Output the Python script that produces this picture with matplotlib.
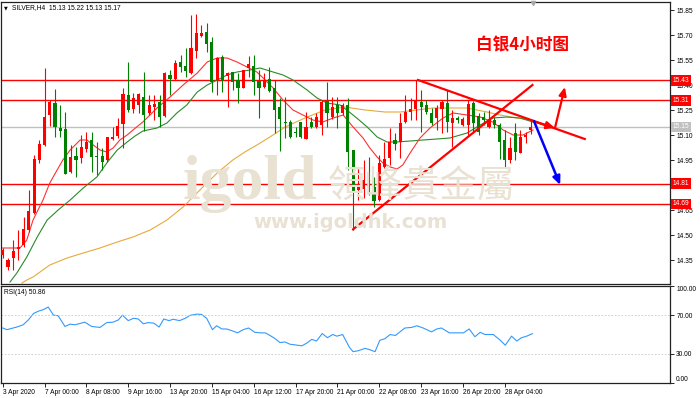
import numpy as np
import matplotlib
matplotlib.use('Agg')
import matplotlib.pyplot as plt
import matplotlib.transforms as mtransforms

plt.rcParams['font.family'] = ['Liberation Sans', 'DejaVu Sans']

# --- SILVER H4 candles ---
opens = [14.382, 14.310, 14.364, 14.418, 14.442, 14.532, 14.634, 14.952, 15.042, 15.222,
         15.294, 15.144, 15.138, 14.880, 14.976, 14.964, 15.018, 15.072, 14.976, 14.976,
         14.952, 15.078, 15.096, 15.168, 15.342, 15.258, 15.282, 15.330, 15.234, 15.270,
         15.300, 15.216, 15.462, 15.438, 15.540, 15.516, 15.474, 15.606, 15.696, 15.720,
         15.660, 15.432, 15.570, 15.456, 15.480, 15.432, 15.384, 15.504, 15.516, 15.426,
         15.390, 15.438, 15.384, 15.270, 15.180, 15.180, 15.120, 15.180, 15.078, 15.180,
         15.150, 15.162, 15.306, 15.210, 15.282, 15.234, 15.282, 15.012, 14.772, 14.778,
         14.814, 14.790, 14.712, 14.910, 14.964, 15.072, 15.060, 15.180, 15.240, 15.258,
         15.300, 15.282, 15.234, 15.204, 15.258, 15.294, 15.174, 15.204, 15.162, 15.162,
         15.294, 15.216, 15.210, 15.150, 15.192, 15.162, 15.072, 14.952, 15.114, 14.994,
         15.090, 15.130]
highs = [14.424, 14.364, 14.472, 14.532, 14.610, 14.772, 14.982, 15.072, 15.504, 15.312,
         15.378, 15.282, 15.240, 15.042, 15.030, 15.102, 15.120, 15.120, 15.060, 15.024,
         15.090, 15.150, 15.204, 15.384, 15.540, 15.354, 15.354, 15.480, 15.342, 15.342,
         15.342, 15.480, 15.492, 15.552, 15.582, 15.624, 15.822, 15.828, 15.762, 15.774,
         15.690, 15.570, 15.582, 15.480, 15.480, 15.474, 15.492, 15.576, 15.582, 15.492,
         15.474, 15.510, 15.432, 15.324, 15.330, 15.192, 15.150, 15.180, 15.240, 15.210,
         15.234, 15.312, 15.420, 15.330, 15.330, 15.294, 15.324, 15.012, 14.904, 14.952,
         14.970, 14.850, 14.982, 15.060, 15.144, 15.114, 15.234, 15.342, 15.324, 15.432,
         15.372, 15.312, 15.264, 15.282, 15.312, 15.372, 15.252, 15.216, 15.210, 15.312,
         15.306, 15.234, 15.240, 15.252, 15.210, 15.174, 15.132, 15.090, 15.174, 15.132,
         15.120, 15.192]
lows = [14.364, 14.292, 14.292, 14.352, 14.430, 14.520, 14.628, 14.934, 15.036, 15.156,
        15.090, 15.090, 14.868, 14.874, 14.850, 14.934, 15.000, 14.880, 14.862, 14.892,
        14.940, 15.072, 15.084, 15.024, 15.240, 15.234, 15.234, 15.126, 15.222, 15.192,
        15.150, 15.210, 15.342, 15.432, 15.480, 15.450, 15.468, 15.564, 15.690, 15.600,
        15.360, 15.342, 15.360, 15.270, 15.372, 15.294, 15.384, 15.450, 15.342, 15.204,
        15.384, 15.360, 15.114, 15.006, 15.084, 15.084, 15.090, 15.084, 15.078, 15.144,
        15.144, 15.102, 15.150, 15.198, 15.144, 15.222, 14.892, 14.532, 14.712, 14.724,
        14.742, 14.670, 14.706, 14.904, 14.922, 15.012, 14.964, 15.174, 15.192, 15.192,
        15.120, 15.228, 15.162, 15.132, 15.114, 15.120, 15.030, 15.174, 15.156, 15.102,
        15.114, 15.102, 15.162, 15.144, 15.144, 14.958, 14.904, 14.934, 14.952, 14.994,
        15.054, 15.108]
closes = [14.412, 14.352, 14.406, 14.430, 14.538, 14.646, 14.958, 15.048, 15.210, 15.300,
          15.150, 15.126, 14.868, 14.970, 14.952, 15.030, 15.060, 14.970, 14.970, 14.940,
          15.090, 15.090, 15.156, 15.348, 15.252, 15.324, 15.348, 15.222, 15.282, 15.288,
          15.210, 15.474, 15.438, 15.534, 15.510, 15.486, 15.624, 15.714, 15.714, 15.648,
          15.420, 15.564, 15.432, 15.474, 15.420, 15.384, 15.492, 15.528, 15.420, 15.384,
          15.432, 15.366, 15.252, 15.198, 15.174, 15.090, 15.114, 15.090, 15.150, 15.150,
          15.210, 15.300, 15.234, 15.270, 15.234, 15.282, 14.999, 14.760, 14.790, 14.832,
          14.796, 14.706, 14.934, 14.958, 15.060, 15.048, 15.174, 15.240, 15.258, 15.312,
          15.270, 15.240, 15.174, 15.264, 15.300, 15.180, 15.204, 15.192, 15.198, 15.288,
          15.174, 15.120, 15.192, 15.192, 15.162, 15.060, 14.952, 15.024, 15.000, 15.090,
          15.102, 15.150]

# --- moving averages (bar index, price) ---
ma_fast_x = [0, 3.3, 4.6, 5.8, 7.7, 9.0, 10.4, 11.5, 12.9, 14.8, 16.1, 17.3, 18.6, 19.9, 21.1,
             22.4, 23.8, 24.9, 26.8, 29.5, 32.0, 34.5, 37.2, 39.1, 41.0, 42.9, 44.8, 46.7, 48.6,
             49.8, 51.7, 53.6, 55.5, 57.4, 59.3, 61.2, 63.2, 65.1, 67.0, 68.9, 70.2, 71.6, 72.7,
             74.1, 75.4, 76.5, 77.9, 79.8, 81.7, 84.2, 86.1, 88.8, 91.3, 93.7, 95.7, 97.6, 99.5,
             101.4]
ma_fast_y = [14.424, 14.424, 14.472, 14.592, 14.712, 14.814, 14.892, 14.952, 15.012, 15.072,
             15.072, 15.042, 15.012, 15.000, 15.024, 15.072, 15.102, 15.132, 15.180, 15.264,
             15.330, 15.402, 15.474, 15.540, 15.564, 15.564, 15.540, 15.510, 15.480, 15.444,
             15.384, 15.312, 15.252, 15.222, 15.192, 15.180, 15.204, 15.222, 15.150, 15.084,
             15.024, 14.970, 14.934, 14.910, 14.898, 14.922, 14.994, 15.084, 15.144, 15.204,
             15.234, 15.222, 15.210, 15.180, 15.132, 15.102, 15.102, 15.132]

ma_mid_x = [1.4, 2.7, 4.6, 6.6, 8.5, 10.6, 12.9, 15.4, 18.0, 19.9, 21.9, 23.8, 25.3, 26.8, 29.5,
            31.4, 33.3, 35.2, 37.2, 39.1, 41.0, 42.9, 44.8, 47.3, 49.2, 51.7, 53.6, 55.5, 58.2,
            60.1, 62.0, 64.5, 65.8, 67.7, 69.7, 71.6, 73.5, 75.4, 77.9, 80.4, 83.0, 85.5, 88.8,
            91.3, 93.7, 96.4, 98.9, 101.4]
ma_mid_y = [14.220, 14.274, 14.370, 14.490, 14.592, 14.652, 14.712, 14.784, 14.850, 14.934,
            15.012, 15.060, 15.096, 15.126, 15.144, 15.174, 15.234, 15.282, 15.360, 15.402,
            15.432, 15.462, 15.480, 15.492, 15.504, 15.480, 15.462, 15.432, 15.372, 15.324,
            15.294, 15.282, 15.252, 15.204, 15.150, 15.090, 15.060, 15.060, 15.066, 15.072,
            15.078, 15.084, 15.114, 15.162, 15.204, 15.210, 15.204, 15.180]

ma_slow_x = [3.7, 4.6, 5.8, 9.0, 12.3, 15.4, 18.6, 21.9, 24.9, 28.2, 31.4, 34.5, 37.7, 41.0,
             44.0, 46.3, 48.6, 51.1, 54.0, 57.8, 61.6, 65.4, 69.3, 73.1, 76.0, 82.3, 88.8, 92.6,
             95.1, 98.3, 101.4]
ma_slow_y = [14.214, 14.232, 14.250, 14.322, 14.364, 14.394, 14.424, 14.460, 14.490, 14.532,
             14.592, 14.670, 14.772, 14.874, 14.952, 15.000, 15.042, 15.090, 15.150, 15.204,
             15.252, 15.270, 15.252, 15.240, 15.240, 15.264, 15.264, 15.240, 15.222, 15.204,
             15.192]

# --- RSI(14) (bar index, value) ---
rsi_x = [0, 0.8, 2.7, 3.9, 4.9, 5.9, 6.8, 7.8, 8.7, 9.7, 10.6, 11.9, 12.9, 13.8, 15.7, 17.0,
         18.6, 19.9, 21.1, 22.1, 22.9, 24.0, 25.0, 25.9, 26.9, 27.8, 28.9, 29.9, 30.8, 31.8,
         32.6, 33.8, 34.9, 35.8, 37.1, 38.0, 39.0, 40.1, 40.9, 41.9, 42.8, 43.8, 44.9, 46.0,
         47.0, 48.2, 49.2, 50.2, 51.1, 52.1, 53.0, 54.0, 54.9, 55.9, 57.2, 58.1, 59.1, 60.0,
         61.1, 62.1, 63.1, 63.9, 65.0, 66.3, 67.0, 68.0, 69.3, 70.2, 71.2, 72.1, 73.1, 74.1,
         75.1, 76.1, 76.9, 78.2, 79.2, 80.4, 82.0, 83.0, 83.9, 85.4, 86.8, 88.1, 89.2, 90.3,
         91.3, 92.2, 93.8, 95.1, 96.1, 97.3, 98.3, 99.2, 100.2, 101.3]
rsi_y = [56.7, 55.0, 57.7, 60.0, 65.0, 71.7, 74.0, 75.7, 78.3, 70.0, 69.3, 58.3, 60.7, 60.0,
         62.7, 58.3, 57.3, 62.3, 62.7, 65.0, 70.0, 64.3, 66.7, 66.0, 61.0, 62.3, 61.7, 57.7,
         66.0, 64.3, 65.7, 64.3, 66.7, 69.7, 71.0, 70.7, 66.7, 55.0, 59.0, 55.7, 55.7, 54.0,
         51.7, 55.0, 56.7, 52.3, 51.7, 51.7, 49.0, 45.7, 41.7, 42.3, 40.0, 39.3, 38.3, 41.0,
         45.0, 43.3, 51.0, 46.7, 50.0, 48.3, 50.0, 36.7, 32.3, 33.3, 35.7, 34.3, 32.3, 44.0,
         45.7, 50.0, 49.0, 53.3, 56.7, 57.3, 59.0, 56.7, 52.7, 55.7, 56.7, 51.7, 51.7, 51.7,
         55.7, 47.7, 52.3, 50.0, 50.0, 44.3, 39.0, 48.3, 43.3, 46.7, 48.3, 50.86]

# support / resistance levels and current price
levels = [15.43, 15.31, 14.81, 14.69]
last_price = 15.15

# hand-drawn analysis lines (bar index, price)
rise_line_x = [67.0, 101.3]
rise_line_y = [14.536, 15.402]
fall_line_x = [79.4, 111.3]
fall_line_y = [15.432, 15.078]
up_arrow_x = [101.4, 105.6, 107.5]
up_arrow_y = [15.185, 15.144, 15.39]
down_arrow_x = [101.6, 106.6]
down_arrow_y = [15.185, 14.802]

price_ticks = [14.35, 14.50, 14.65, 14.80, 14.95, 15.10, 15.25, 15.40, 15.55, 15.70, 15.85]
# 14.80 sits under the 14.81 level box, so its label is hidden there
hidden_ticks = [14.80]
date_pos = [0, 8, 16, 24, 32, 40, 48, 56, 64, 72, 80, 88, 96]
date_labels = ['3 Apr 2020', '7 Apr 00:00', '8 Apr 08:00', '9 Apr 16:00', '13 Apr 20:00',
               '15 Apr 04:00', '16 Apr 12:00', '17 Apr 20:00', '21 Apr 00:00', '22 Apr 08:00',
               '23 Apr 16:00', '26 Apr 20:00', '28 Apr 04:00']

W, H = 700, 398


def px_box(x0, y0, x1, y1):
    # pixel rectangle (top-left origin) -> figure fraction
    return [x0 / W, 1 - y1 / H, (x1 - x0) / W, (y1 - y0) / H]


fig = plt.figure(figsize=(7, 3.98), dpi=100)
ax = fig.add_axes(px_box(1, 2, 670, 284))
ax2 = fig.add_axes(px_box(1, 286, 670, 383))

# --- watermark ---
wm = '#e9e2d3'
fig.text(183 / W, 1 - 184 / H, 'igold', color=wm, fontsize=46, weight='bold',
         family='Liberation Serif', ha='left', va='center', zorder=0)
fig.text(422 / W, 1 - 186 / H, '領峰貴金屬', color=wm, fontsize=27,
         family='Noto Sans CJK TC', ha='center', va='center', zorder=0)
fig.text(350 / W, 1 - 222 / H, 'www.igoldhk.com', color=wm, fontsize=14, weight='bold',
         family='DejaVu Sans', ha='center', va='center', zorder=0)
ax.patch.set_alpha(0)
fig.patch.set_facecolor('white')

# --- candles ---
o = np.array(opens)
c = np.array(closes)
idx = np.arange(len(o))
cols = np.where(c >= o, '#ff0000', '#008000')
ax.vlines(idx, lows, highs, colors=cols, lw=0.8, zorder=3)
ax.bar(idx, np.maximum(np.abs(c - o), 0.006), bottom=np.minimum(o, c), width=0.6,
       color=cols, lw=0, zorder=4)

# moving averages
ax.plot(ma_slow_x, ma_slow_y, color='#e8a93a', lw=0.8, zorder=2)
ax.plot(ma_mid_x, ma_mid_y, color='#2a8a2a', lw=0.8, zorder=2)
ax.plot(ma_fast_x, ma_fast_y, color='#ff3030', lw=0.8, zorder=2)

# levels
for lv in levels:
    ax.axhline(lv, color='#ff0000', lw=1.0, zorder=1)
ax.axhline(last_price, color='#c0c0c0', lw=1.0, zorder=1)

# trend lines and arrows
ax.plot(rise_line_x, rise_line_y, color='#ff0000', lw=1.6, zorder=5)
ax.plot(fall_line_x, fall_line_y, color='#ff0000', lw=1.6, zorder=5)
for i in range(len(up_arrow_x) - 1):
    ax.annotate('', xy=(up_arrow_x[i + 1], up_arrow_y[i + 1]),
                xytext=(up_arrow_x[i], up_arrow_y[i]),
                arrowprops=dict(arrowstyle='-|>,head_length=0.5,head_width=0.22',
                                color='#ff0000', lw=1.6, shrinkA=0, shrinkB=0), zorder=6)
ax.annotate('', xy=(down_arrow_x[1], down_arrow_y[1]), xytext=(down_arrow_x[0], down_arrow_y[0]),
            arrowprops=dict(arrowstyle='-|>,head_length=0.5,head_width=0.22',
                            color='#0000ff', lw=1.8, shrinkA=0, shrinkB=0), zorder=6)

ax.set_xlim(-0.33, 127.6)
ax.set_ylim(14.208, 15.90)
ax.set_xticks([])
ax.yaxis.tick_right()
ax.set_yticks(price_ticks)
ax.set_yticklabels(['' if t in hidden_ticks else '%.2f' % t for t in price_ticks])
ax.tick_params(axis='y', labelsize=4.8, length=3, width=0.6, pad=1.5, colors='black')
for s in ax.spines.values():
    s.set_linewidth(0.9)
    s.set_color('#222222')

# shift marker at the top
ax.plot([101.4], [15.895], marker='v', color='#a8a8a8', ms=3, clip_on=False, zorder=7)

# price boxes on the axis
trans = mtransforms.blended_transform_factory(ax.transAxes, ax.transData)
for lv in levels:
    ax.text(1.004, lv, '%.2f' % lv, transform=trans, color='white', fontsize=4.8,
            ha='left', va='center', clip_on=False, zorder=8,
            bbox=dict(boxstyle='square,pad=0.25', fc='#ff0000', ec='none'))
ax.text(1.004, last_price, '%.2f' % last_price, transform=trans, color='white', fontsize=4.8,
        ha='left', va='center', clip_on=False, zorder=8,
        bbox=dict(boxstyle='square,pad=0.25', fc='#c0c0c0', ec='none'))

# header and title
fig.text(4 / W, 1 - 8 / H, '▼', fontsize=3.5, family='DejaVu Sans', va='center')
fig.text(12 / W, 1 - 8 / H, 'SILVER,H4  15.13 15.22 15.13 15.17', fontsize=4.8, va='center')
fig.text(523 / W, 1 - 45 / H, '白银4小时图', color='#ff0000', fontsize=12, weight='bold',
         family=['Noto Sans CJK SC', 'DejaVu Sans'], ha='center', va='center')

# --- RSI panel ---
ax2.plot(rsi_x, rsi_y, color='#3399ff', lw=0.8)
for lv in (30, 70):
    ax2.axhline(lv, color='#c8c8c8', lw=0.6, ls=(0, (2, 2)))
ax2.set_xlim(-0.33, 127.6)
ax2.set_ylim(0, 100)
ax2.yaxis.tick_right()
ax2.set_yticks([0, 30, 70, 100])
ax2.set_yticklabels(['0.00', '30.00', '70.00', '100.00'])
ax2.tick_params(axis='y', labelsize=4.8, length=3, width=0.6, pad=1.5)
ax2.set_xticks(date_pos)
ax2.set_xticklabels(date_labels, ha='left')
ax2.tick_params(axis='x', labelsize=4.8, length=3, width=0.6, pad=1.5)
ylabs = ax2.get_yticklabels()
ylabs[0].set_va('bottom')
ylabs[-1].set_va('top')
for s in ax2.spines.values():
    s.set_linewidth(0.9)
    s.set_color('#222222')
fig.text(4 / W, 1 - 293 / H, 'RSI(14) 50.86', fontsize=4.8, va='center')

fig.savefig('out.png', dpi=100)
